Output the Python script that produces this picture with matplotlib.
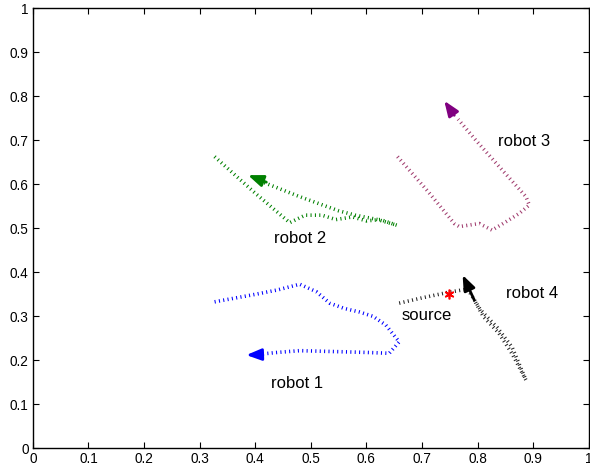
import matplotlib.pyplot as plt
import numpy as np

plt.rcParams['font.family'] = ['Liberation Sans', 'DejaVu Sans']
plt.rcParams['lines.scale_dashes'] = False

# robot trajectories (x, y) in the unit square
robot1_x = [0.327, 0.40, 0.44, 0.480, 0.51, 0.534, 0.560, 0.587, 0.612, 0.635, 0.659, 0.641, 0.60, 0.54, 0.48, 0.44, 0.408, 0.395]
robot1_y = [0.333, 0.350, 0.360, 0.373, 0.356, 0.330, 0.318, 0.310, 0.300, 0.280, 0.242, 0.216, 0.218, 0.220, 0.222, 0.218, 0.214, 0.213]

robot2_x = [0.327, 0.40, 0.462, 0.49, 0.52, 0.545, 0.575, 0.60, 0.625, 0.655, 0.62, 0.58, 0.55, 0.48, 0.42, 0.40]
robot2_y = [0.663, 0.580, 0.513, 0.530, 0.530, 0.520, 0.526, 0.517, 0.520, 0.507, 0.520, 0.530, 0.540, 0.572, 0.602, 0.612]

robot3_x = [0.656, 0.71, 0.758, 0.767, 0.803, 0.826, 0.851, 0.875, 0.893, 0.887, 0.839, 0.797, 0.765]
robot3_y = [0.663, 0.585, 0.511, 0.504, 0.511, 0.496, 0.515, 0.534, 0.553, 0.572, 0.640, 0.700, 0.748]

robot4_x = [0.659, 0.70, 0.749, 0.782, 0.805, 0.835, 0.862, 0.887, 0.862, 0.838, 0.810, 0.794]
robot4_y = [0.330, 0.342, 0.355, 0.362, 0.315, 0.275, 0.230, 0.155, 0.215, 0.262, 0.300, 0.337]

# final heading of each robot: (base, tip)
heading1 = [(0.41, 0.213), (0.384, 0.212)]
heading2 = [(0.42, 0.605), (0.387, 0.621)]
heading3 = [(0.758, 0.757), (0.740, 0.790)]
heading4 = [(0.794, 0.337), (0.773, 0.394)]

source_x, source_y = 0.749, 0.35

labels = ['robot 1', 'robot 2', 'robot 3', 'robot 4', 'source']
label_x = [0.476, 0.480, 0.884, 0.898, 0.708]
label_y = [0.148, 0.476, 0.698, 0.353, 0.303]

ticks = [0, 0.1, 0.2, 0.3, 0.4, 0.5, 0.6, 0.7, 0.8, 0.9, 1]
tick_labels = ['0', '0.1', '0.2', '0.3', '0.4', '0.5', '0.6', '0.7', '0.8', '0.9', '1']

fig = plt.figure(figsize=(5.9, 4.67), dpi=100)
ax = fig.add_axes([0.0556, 0.040, 0.9424, 0.942])

paths = [(robot1_x, robot1_y, '#0000ff', '#0000ff', heading1),
         (robot2_x, robot2_y, '#008000', '#008000', heading2),
         (robot3_x, robot3_y, '#a03c6e', '#800080', heading3),
         (robot4_x, robot4_y, '#222222', '#000000', heading4)]

for xs, ys, c, hc, (base, tip) in paths:
    ax.plot(xs, ys, color=c, lw=2.6, linestyle=(0, (0.75, 2.4)),
            dash_capstyle='butt', solid_capstyle='butt')
    ax.annotate('', xy=tip, xytext=base,
                arrowprops=dict(arrowstyle='-|>,head_length=0.9,head_width=0.35',
                                mutation_scale=10, color=hc, lw=2,
                                shrinkA=0, shrinkB=0))

ax.plot(source_x, source_y, marker=(6, 2, 0), color='red', markersize=7, mew=1.2)

for t, x, y in zip(labels, label_x, label_y):
    ax.text(x, y, t, fontsize=12, ha='center', va='center')

ax.set_xlim(0, 1)
ax.set_ylim(0, 1)
ax.set_xticks(ticks)
ax.set_xticklabels(tick_labels)
ax.set_yticks(ticks)
ax.set_yticklabels(tick_labels)
ax.tick_params(direction='in', top=True, right=True, length=4, labelsize=9.8, pad=3)
for s in ax.spines.values():
    s.set_linewidth(1.0)

fig.savefig('out.png', dpi=100)
